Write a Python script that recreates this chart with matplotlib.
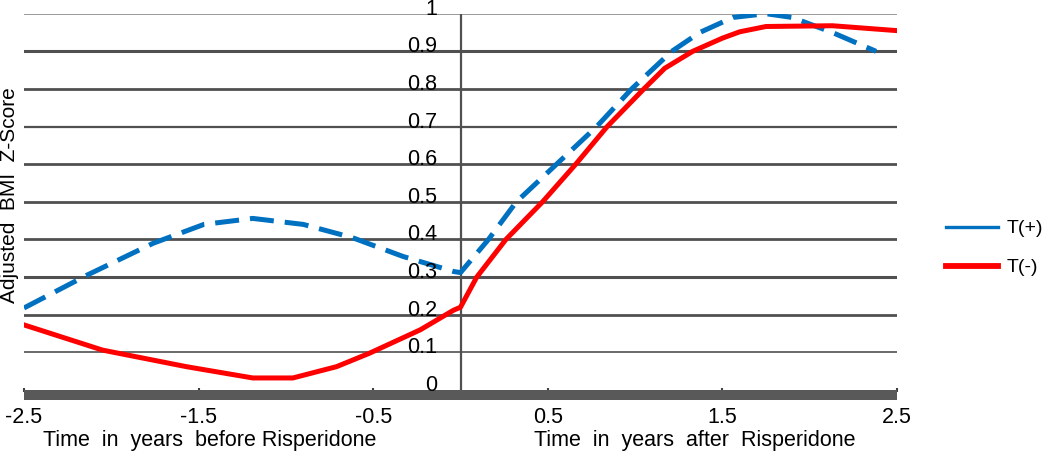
import matplotlib
matplotlib.use("Agg")
import matplotlib.pyplot as plt
from matplotlib.lines import Line2D

plt.rcParams['font.family'] = ['Liberation Sans', 'DejaVu Sans']

# ---- data ----
x_pos = [-2.5, -2.14, -1.76, -1.47, -1.19, -0.90, -0.62, -0.33, -0.04, 0.0,
         0.16, 0.32, 0.55, 0.78, 0.98, 1.21, 1.37, 1.56, 1.75, 1.90, 2.13, 2.38]
y_pos = [0.218, 0.305, 0.39, 0.44, 0.456, 0.44, 0.405, 0.355, 0.315, 0.312,
         0.40, 0.50, 0.60, 0.70, 0.80, 0.90, 0.95, 0.99, 1.0, 0.99, 0.95, 0.90]

x_neg = [-2.5, -2.05, -1.57, -1.19, -0.96, -0.71, -0.52, -0.23, -0.04, 0.0,
         0.093, 0.26, 0.47, 0.66, 0.84, 1.05, 1.17, 1.33, 1.50, 1.60, 1.75, 2.13, 2.5]
y_neg = [0.173, 0.106, 0.062, 0.032, 0.032, 0.062, 0.098, 0.16, 0.212, 0.22,
         0.30, 0.40, 0.50, 0.60, 0.70, 0.80, 0.855, 0.90, 0.935, 0.952, 0.966, 0.968, 0.955]

x_ticks = [-2.5, -1.5, -0.5, 0.5, 1.5, 2.5]
x_tick_labels = ['-2.5', '-1.5', '-0.5', '0.5', '1.5', '2.5']
y_ticks = [0, 0.1, 0.2, 0.3, 0.4, 0.5, 0.6, 0.7, 0.8, 0.9, 1]
y_tick_labels = ['0', '0.1', '0.2', '0.3', '0.4', '0.5', '0.6', '0.7', '0.8', '0.9', '1']
grid_widths = [0, 1.2, 2.0, 2.2, 2.0, 2.0, 2.0, 1.6, 2.0, 2.2, 1.2]
series_names = ['T(+)', 'T(-)']

FS = 15.5

# ---- figure ----
fig = plt.figure(figsize=(10.5, 4.65), dpi=100)
ax = fig.add_axes([24/1050, 75/465, (897-24)/1050, (390-13.7)/465])
ax.set_xlim(-2.5, 2.5)
ax.set_ylim(0, 1)

# gridlines
for yv, lw in zip(y_ticks, grid_widths):
    if yv == 0:
        continue
    col = '#8a8a8a' if yv == 1 else '#505050'
    ax.axhline(yv, color=col, lw=lw, zorder=1)

# vertical line at 0
ax.axvline(0, color='#505050', lw=1.6, zorder=1)

# bottom thick bar
ax.axhspan(-0.026, 0, color='#595959', clip_on=False, zorder=2, lw=0)

# series
ax.plot(x_pos, y_pos, color='#0070C0', lw=3.6, dashes=(4.8, 2.2),
        solid_capstyle='butt', zorder=3)
ax.plot(x_neg, y_neg, color='#FF0000', lw=3.6, zorder=3)

for s in ax.spines.values():
    s.set_visible(False)

ax.set_yticks([])
ax.set_xticks(x_ticks)
ax.set_xticklabels(x_tick_labels, fontsize=FS)
ax.tick_params(axis='x', length=3, width=1.5, color='#404040', pad=11, direction='inout')

# y tick labels placed left of vertical line
for yv, lab in zip(y_ticks, y_tick_labels):
    ax.text(-0.135, yv + 0.012, lab, ha='right', va='center', fontsize=FS,
            clip_on=False, zorder=4)

# axis titles
fig.text(10/1050, 1 - 195/465, 'Adjusted  BMI  Z-Score', rotation=90,
         ha='center', va='center', fontsize=15)
fig.text(210/1050, 1 - 440/465, 'Time  in  years  before Risperidone',
         ha='center', va='center', fontsize=FS)
fig.text(695/1050, 1 - 440/465, 'Time  in  years  after  Risperidone',
         ha='center', va='center', fontsize=FS)

# legend
handles = [Line2D([], [], color='#0070C0', lw=2.4),
           Line2D([], [], color='#FF0000', lw=4.2)]
fig.legend(handles, series_names, loc='center left',
           bbox_to_anchor=(928/1050, 1 - 248/465), frameon=False,
           fontsize=14, handlelength=2.7, handletextpad=0.45, labelspacing=1.1)

fig.savefig('out.png', dpi=100)
